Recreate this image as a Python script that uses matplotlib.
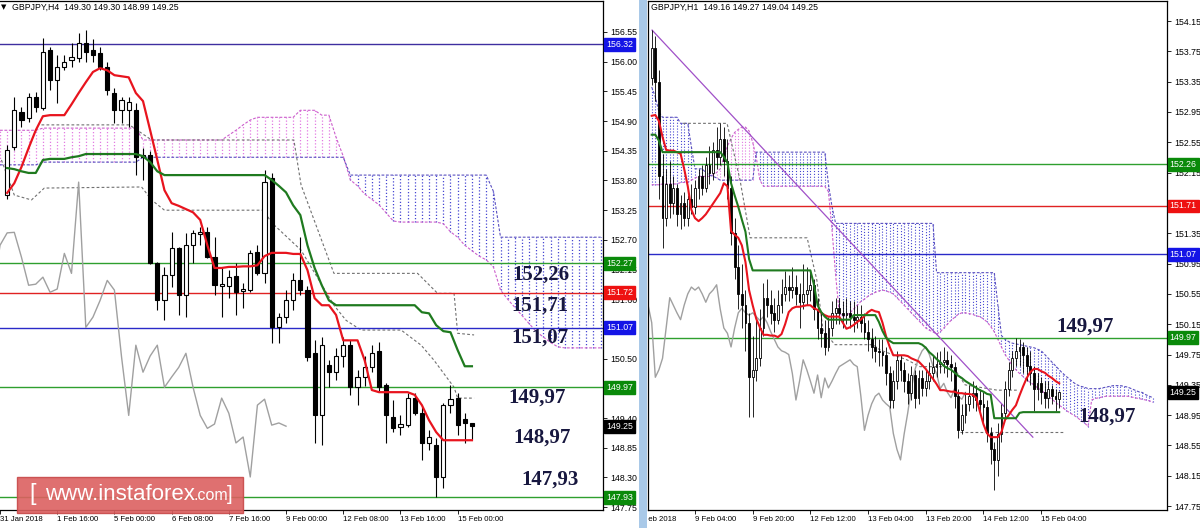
import numpy as np
import matplotlib.pyplot as plt
from matplotlib.transforms import Bbox, blended_transform_factory
from matplotlib.patches import Rectangle, FancyBboxPatch

plt.rcParams['font.family'] = ['Liberation Sans', 'DejaVu Sans']

# ---------------- left chart, GBPJPY H4 (bars 1..66) ----------------
L_open = [153.53, 154.42, 155.07, 154.96, 155.34, 155.14, 156.21, 155.66, 155.90, 156.03,
          156.07, 156.34, 156.21, 156.16, 155.90, 155.42, 155.10, 155.10, 155.10, 154.24,
          154.27, 152.27, 151.58, 152.05, 152.55, 151.68, 152.60, 152.81, 152.84, 152.38,
          151.85, 151.85, 152.03, 151.75, 151.77, 152.47, 152.08, 153.85, 151.08, 151.27,
          151.58, 151.95, 151.77, 150.60, 149.45, 150.38, 150.25, 150.55, 150.75, 149.97,
          150.16, 150.34, 150.65, 150.01, 149.42, 149.23, 149.27, 149.77, 149.49, 148.94,
          148.90, 148.31, 149.64, 149.77, 149.38, 149.30]
L_high = [154.45, 155.34, 155.16, 155.42, 155.44, 156.44, 156.27, 156.12, 156.12, 156.34,
          156.53, 156.58, 156.42, 156.27, 155.99, 155.51, 155.34, 155.34, 155.24, 154.40,
          154.35, 152.29, 152.20, 152.84, 152.57, 152.83, 152.88, 152.94, 152.94, 152.75,
          152.20, 152.14, 152.27, 151.90, 152.51, 152.60, 153.99, 153.94, 151.34, 151.77,
          152.08, 152.75, 151.85, 150.85, 150.90, 150.47, 150.70, 150.90, 150.85, 150.29,
          150.55, 150.75, 150.80, 150.05, 149.73, 149.45, 149.86, 149.86, 149.60, 149.18,
          149.03, 149.68, 150.01, 149.86, 149.49, 149.30]
L_low = [153.45, 154.37, 154.79, 154.88, 155.07, 155.10, 155.47, 155.23, 155.84, 155.90,
         155.99, 155.99, 155.99, 155.84, 155.38, 154.86, 154.86, 154.79, 153.90, 153.81,
         152.25, 151.40, 151.21, 151.83, 151.31, 151.27, 152.27, 152.60, 152.36, 151.68,
         151.27, 151.62, 151.31, 151.44, 151.73, 152.05, 151.90, 150.79, 150.79, 151.16,
         151.40, 151.68, 150.45, 148.94, 148.90, 149.97, 150.10, 150.35, 149.83, 149.64,
         150.00, 150.25, 149.90, 148.94, 149.14, 149.08, 149.23, 149.45, 148.62, 148.81,
         147.94, 148.10, 149.49, 149.08, 148.94, 148.99]
L_close = [154.36, 155.10, 154.92, 155.34, 155.16, 156.18, 155.66, 155.90, 155.99, 156.08,
           156.34, 156.18, 156.12, 155.90, 155.47, 155.10, 155.29, 155.25, 154.24, 154.27,
           152.27, 151.58, 152.05, 152.55, 151.68, 152.60, 152.83, 152.84, 152.38, 151.86,
           151.88, 152.01, 151.73, 151.79, 152.45, 152.08, 153.77, 151.08, 151.27, 151.58,
           151.95, 151.77, 150.53, 149.45, 150.75, 150.25, 150.55, 150.75, 149.97, 150.16,
           150.34, 150.60, 149.97, 149.45, 149.21, 149.29, 149.77, 149.49, 148.94, 149.05,
           148.31, 149.64, 149.75, 149.27, 149.31, 149.25]
L_tenkan = [153.57, 153.75, 154.05, 154.40, 154.73, 154.99, 155.01, 155.01, 155.01, 155.21,
            155.42, 155.62, 155.81, 155.88, 155.84, 155.75, 155.73, 155.71, 155.42, 155.27,
            154.73, 154.18, 153.62, 153.38, 153.33, 153.27, 153.21, 153.07, 152.60, 152.18,
            152.18, 152.20, 152.20, 152.21, 152.21, 152.23, 152.40, 152.46, 152.46, 152.46,
            152.44, 152.44, 152.14, 151.62, 151.49, 151.49, 151.31, 150.84, 150.84, 150.84,
            150.47, 149.92, 149.88, 149.88, 149.88, 149.88, 149.88, 149.83, 149.64, 149.36,
            149.14, 148.99, 148.99, 148.99, 148.99, 148.99]
L_kijun = [154.03, 154.01, 153.97, 153.94, 153.94, 154.18, 154.20, 154.20, 154.20, 154.23,
           154.25, 154.29, 154.29, 154.29, 154.29, 154.29, 154.29, 154.29, 154.29, 154.25,
           154.14, 153.97, 153.90, 153.90, 153.90, 153.90, 153.90, 153.90, 153.90, 153.90,
           153.90, 153.90, 153.90, 153.90, 153.90, 153.90, 153.90, 153.81, 153.70, 153.58,
           153.34, 153.16, 152.60, 152.18, 151.86, 151.58, 151.49, 151.49, 151.49, 151.49,
           151.49, 151.49, 151.49, 151.49, 151.49, 151.49, 151.49, 151.49, 151.36, 151.34,
           151.12, 151.01, 150.99, 150.66, 150.36, 150.36]
# cloud, bars 0..84 (shifted forward)
L_spanA = ([154.73] * 6 + [154.77] * 14 + [154.55] * 12 + [154.64, 154.73, 154.83, 154.92]
           + [154.97] * 6 + [155.10] * 3 + [155.01] * 2 + [154.60, 154.25]
           + [153.81, 153.70, 153.55, 153.45, 153.35, 153.20, 153.05] + [153.03] * 6
           + [153.00, 152.85, 152.75, 152.60, 152.50, 152.40, 152.33, 152.20, 151.77, 151.60,
              151.45, 151.30, 151.15, 151.00, 150.90, 150.80, 150.72] + [150.70] * 6)
L_spanB = [154.09] * 6 + [154.14] * 14 + [154.23] * 29 + [153.90] * 20 + [153.60] + [152.75] * 15
L_g1_x = [5.8, 18.1, 21.2, 41.1, 42.1, 46.7, 58.4, 61.2, 63.5, 64.0, 66.3]
L_g1_y = [154.83, 154.83, 154.55, 154.55, 153.72, 152.08, 152.08, 151.71, 151.71, 150.97, 150.94]
L_g2_x = [0.2, 2.0, 4.4, 6.2, 19.8, 21.2, 23.0, 36.9, 37.9, 42.1, 46.7, 48.4, 50.5, 56.1,
          58.9, 60.7, 63.5, 64.0, 66.3]
L_g2_y = [154.18, 153.53, 153.44, 153.66, 153.68, 153.44, 153.25, 153.25, 153.03, 152.51,
          151.49, 151.21, 151.03, 151.03, 150.75, 150.47, 149.97, 149.77, 149.77]
L_levels = [(156.32, '#3f2fa0', '#1414e6'), (152.27, '#2f9f2f', '#0a8a0a'),
            (151.72, '#e02222', '#ee1111'), (151.07, '#2a2ac8', '#1414e6'),
            (149.97, '#2f9f2f', '#0a8a0a'), (147.93, '#2f9f2f', '#0a8a0a')]
L_yticks = [147.75, 148.30, 148.85, 149.40, 149.95, 150.50, 151.05, 151.60, 152.15, 152.70,
            153.25, 153.80, 154.35, 154.90, 155.45, 156.00, 156.55]
L_hidden = [149.95, 151.05]          # covered by the level boxes
L_xticks = [0, 8, 16, 24, 32, 40, 48, 56, 64]
L_xlabels = ['31 Jan 2018', '1 Feb 16:00', '5 Feb 00:00', '6 Feb 08:00', '7 Feb 16:00',
             '9 Feb 00:00', '12 Feb 08:00', '13 Feb 16:00', '15 Feb 00:00']
L_notes = [('152,26', 541, 275), ('151,71', 540, 306), ('151,07', 540, 338),
           ('149,97', 537, 398), ('148,97', 542, 438), ('147,93', 550, 480)]

# ---------------- right chart, GBPJPY H1 (bars 0..113) ----------------
R_open0 = 153.40
R_close = [153.80, 153.35, 152.10, 151.55, 152.00, 151.75, 151.95, 151.60, 151.75, 151.55,
           151.80, 151.70, 151.95, 152.10, 151.95, 152.25, 152.15, 152.45, 152.35, 152.60,
           152.30, 151.95, 151.35, 150.90, 150.55, 150.40, 150.17, 149.45, 149.55, 149.70,
           150.10, 150.50, 150.40, 150.30, 150.21, 150.40, 150.55, 150.64, 150.60, 150.64,
           150.55, 150.44, 150.55, 150.60, 150.67, 150.35, 150.10, 150.03, 149.85, 150.10,
           150.30, 150.36, 150.30, 150.27, 150.30, 150.25, 150.20, 150.25, 150.17, 150.05,
           149.95, 149.85, 149.80, 149.78, 149.75, 149.50, 149.15, 149.40, 149.68, 149.55,
           149.40, 149.24, 149.48, 149.18, 149.44, 149.31, 149.40, 149.50, 149.59, 149.62,
           149.65, 149.68, 149.62, 149.59, 149.20, 148.75, 148.95, 149.10, 149.20, 149.24,
           149.15, 149.10, 149.06, 148.71, 148.50, 148.36, 148.70, 148.98, 149.30, 149.55,
           149.70, 149.80, 149.85, 149.75, 149.60, 149.50, 149.30, 149.37, 149.25, 149.18,
           149.30, 149.20, 149.16, 149.25]
R_high = [154.03, 153.95, 153.50, 152.40, 152.20, 152.30, 152.10, 152.00, 151.85, 151.90,
          151.85, 152.00, 152.05, 152.20, 152.25, 152.35, 152.50, 152.55, 152.75, 152.80,
          152.75, 152.60, 152.10, 151.55, 151.20, 150.95, 150.60, 150.30, 150.00, 150.20,
          150.35, 150.70, 150.75, 150.60, 150.50, 150.60, 150.75, 150.85, 150.80, 150.90,
          150.80, 150.70, 150.95, 150.90, 150.85, 150.75, 150.50, 150.30, 150.20, 150.25,
          150.45, 150.50, 150.50, 150.45, 150.50, 150.45, 150.45, 150.40, 150.40, 150.30,
          150.20, 150.10, 150.00, 149.95, 149.95, 149.85, 149.60, 149.55, 149.80, 149.75,
          149.65, 149.50, 149.60, 149.55, 149.55, 149.55, 149.55, 149.65, 149.75, 149.78,
          149.80, 149.85, 149.80, 149.75, 149.65, 149.30, 149.10, 149.25, 149.35, 149.40,
          149.35, 149.30, 149.25, 149.15, 148.80, 148.60, 148.85, 149.10, 149.40, 149.65,
          149.80, 149.97, 149.95, 149.92, 149.85, 149.80, 149.60, 149.50, 149.45, 149.40,
          149.40, 149.35, 149.30, 149.27]
R_low = [153.30, 153.10, 151.80, 151.15, 151.45, 151.55, 151.60, 151.45, 151.40, 151.45,
         151.45, 151.60, 151.60, 151.80, 151.85, 151.90, 152.00, 152.05, 152.20, 152.25,
         152.10, 151.80, 151.20, 150.75, 150.35, 150.10, 149.80, 148.92, 148.92, 149.40,
         149.60, 150.00, 150.25, 150.15, 150.05, 150.15, 150.30, 150.45, 150.45, 150.50,
         150.40, 150.10, 150.35, 150.40, 150.45, 150.20, 149.95, 149.85, 149.75, 149.80,
         150.00, 150.15, 150.15, 150.10, 150.15, 150.10, 150.05, 150.10, 150.05, 149.95,
         149.80, 149.70, 149.65, 149.60, 149.60, 149.35, 149.05, 149.05, 149.30, 149.40,
         149.25, 149.10, 149.15, 149.05, 149.10, 149.20, 149.20, 149.30, 149.40, 149.45,
         149.50, 149.50, 149.45, 149.40, 149.05, 148.65, 148.70, 148.85, 149.00, 149.05,
         149.00, 148.95, 148.85, 148.60, 148.30, 147.96, 148.15, 148.60, 148.90, 149.20,
         149.45, 149.60, 149.60, 149.50, 149.40, 149.35, 149.00, 149.15, 149.10, 149.05,
         149.05, 149.10, 149.00, 149.04]
R_tenkan = [152.90, 152.91, 152.83, 152.62, 152.45, 152.44, 152.44, 152.42, 152.40, 152.20,
            151.97, 151.66, 151.55, 151.51, 151.55, 151.60, 151.67, 151.74, 151.81, 151.88,
            152.01, 151.97, 151.38, 151.33, 151.29, 151.19, 150.97, 150.60, 150.40, 150.22,
            150.11, 150.01, 150.01, 150.00, 150.00, 149.98, 150.02, 150.15, 150.31, 150.36,
            150.38, 150.38, 150.39, 150.40, 150.40, 150.36, 150.34, 150.30, 150.27, 150.25,
            150.25, 150.25, 150.25, 150.17, 150.09, 150.11, 150.14, 150.18, 150.21, 150.26,
            150.31, 150.34, 150.32, 150.31, 150.17, 149.99, 149.85, 149.74, 149.74, 149.74,
            149.74, 149.73, 149.70, 149.68, 149.66, 149.61, 149.56, 149.49, 149.43, 149.36,
            149.28, 149.28, 149.27, 149.26, 149.26, 149.24, 149.24, 149.23, 149.23, 149.22,
            149.18, 149.00, 148.83, 148.71, 148.66, 148.66, 148.66, 148.73, 148.89, 148.95,
            149.02, 149.08, 149.21, 149.33, 149.44, 149.52, 149.56, 149.56, 149.53, 149.51,
            149.47, 149.44, 149.40, 149.37]
R_kijun = ([152.65, 152.65, 152.57] + [152.42] * 17
           + [152.36, 152.28, 152.01, 151.85, 151.70, 151.53, 151.37, 151.01] + [150.86] * 17
           + [150.67, 150.40, 150.31, 150.25] + [150.21] * 7 + [150.27] * 7
           + [150.18, 150.06, 149.97, 149.93] + [149.90] * 8
           + [149.88, 149.84, 149.78, 149.74, 149.69, 149.65, 149.60, 149.57, 149.55, 149.51,
              149.47, 149.44, 149.40, 149.37, 149.34, 149.31, 149.28, 149.26, 149.23, 149.22]
           + [148.91] * 7 + [148.98] + [148.99] * 11)
# cloud, bars 0..139
R_spanA = ([151.99] * 3 + [152.00] * 5 + [152.02] * 3 + [152.05, 152.08] + [152.10] * 4
           + [152.12, 152.15, 152.20, 152.35, 152.50, 152.60, 152.68, 152.72, 152.75, 152.75,
              152.70, 152.55, 152.35, 152.05] + [151.97] * 18 + [151.90, 151.40, 150.80]
           + [150.30, 150.25, 150.27, 150.30, 150.35, 150.40, 150.45, 150.48, 150.52, 150.55,
              150.57, 150.59, 150.60, 150.59, 150.57, 150.55, 150.50, 150.45, 150.40, 150.35,
              150.30, 150.25, 150.20, 150.15, 150.10, 150.07, 150.05]
           + [150.02, 150.05, 150.10, 150.15, 150.20, 150.24, 150.28, 150.30, 150.30, 150.29,
              150.28, 150.26, 150.25, 150.22, 150.18, 150.12, 150.05]
           + [149.95, 149.85, 149.75, 149.68, 149.60, 149.55, 149.50, 149.46, 149.42, 149.38,
              149.35, 149.31, 149.28, 149.24, 149.20, 149.16, 149.12, 149.08, 149.05, 149.01,
              148.98, 148.95, 148.92, 148.88, 148.85, 148.80]
           + [149.15, 149.17, 149.18, 149.19, 149.20, 149.20, 149.20, 149.20, 149.20, 149.20,
              149.20, 149.19, 149.18, 149.17, 149.16, 149.15, 149.14, 149.12])
R_spanB = ([153.28, 153.15, 152.95] + [152.88] * 5 + [152.80] * 3 + [152.49] + [152.20] * 3
           + [152.15, 152.12, 152.10, 152.08] + [152.05] * 10 + [152.42] * 20
           + [152.00, 151.70] + [151.48] * 28 + [150.83] * 17
           + [150.40, 150.00, 149.95, 149.92, 149.90, 149.89, 149.88, 149.87, 149.86, 149.85,
              149.84, 149.82, 149.80, 149.75, 149.70, 149.65, 149.60, 149.55, 149.50, 149.46,
              149.42, 149.38, 149.35, 149.33, 149.32, 149.30, 149.30, 149.30, 149.30, 149.31,
              149.32, 149.33, 149.34, 149.34, 149.34, 149.33, 149.32, 149.30, 149.28, 149.26,
              149.25, 149.22, 149.20, 149.18])
R_g1_x = [8.7, 20.9, 24.5, 27.3, 43.1, 45.8, 47.5, 50.8, 61.4, 63.3, 70.8, 74.4, 83.6, 86.9,
          95.8, 101.3]
R_g1_y = [152.80, 152.80, 152.05, 151.29, 151.29, 150.73, 150.07, 149.88, 149.88, 149.81,
          149.68, 149.59, 149.59, 149.35, 149.28, 149.28]
R_g2_x = [85.5, 114.0]
R_g2_y = [148.73, 148.73]
R_trend_x = [0.1, 105.7]
R_trend_y = [154.03, 148.66]
R_levels = [(152.26, '#2f9f2f', '#0a8a0a'), (151.71, '#e02222', '#ee1111'),
            (151.07, '#2a2ac8', '#1414e6'), (149.97, '#2f9f2f', '#0a8a0a')]
R_yticks = [147.75, 148.15, 148.55, 148.95, 149.35, 149.75, 150.15, 150.55, 150.95, 151.35,
            151.75, 152.15, 152.55, 152.95, 153.35, 153.75, 154.15]
R_hidden = [151.75]
R_xticks = [12, 28, 44, 60, 76, 92, 108]
R_xlabels = ['9 Feb 04:00', '9 Feb 20:00', '12 Feb 12:00', '13 Feb 04:00', '13 Feb 20:00',
             '14 Feb 12:00', '15 Feb 04:00']
R_notes = [('149,97', 1085, 327), ('148,97', 1107, 417)]

W, H = 1200, 528
fig = plt.figure(figsize=(W / 100, H / 100), dpi=100)
fig.patch.set_facecolor('white')


def px_axes(x0, y0, x1, y1):
    return fig.add_axes([x0 / W, 1 - y1 / H, (x1 - x0) / W, (y1 - y0) / H])


def candles(ax, x, o, h, l, c, w, lw):
    x, o, h, l, c = map(np.asarray, (x, o, h, l, c))
    ax.vlines(x, l, h, color='black', lw=lw, zorder=3)
    up = c >= o
    bot = np.minimum(o, c)
    hgt = np.maximum(np.abs(c - o), 0.004)
    ax.bar(x[up], hgt[up], w, bot[up], color='white', edgecolor='black', lw=lw, zorder=4)
    ax.bar(x[~up], hgt[~up], w, bot[~up], color='black', edgecolor='black', lw=lw, zorder=4)


def cloud(ax, x, a, b, lw):
    x, a, b = map(np.asarray, (x, a, b))
    pink = a >= b
    ax.vlines(x[pink], b[pink], a[pink], colors='#e27be2', linestyles=(0, (1, 1.6)), lw=lw, zorder=1)
    ax.vlines(x[~pink], a[~pink], b[~pink], colors='#4646d2', linestyles=(0, (1, 1.6)), lw=lw, zorder=1)
    ax.plot(x, a, color='#cc5fcc', ls=(0, (2.5, 1.5)), lw=0.8, zorder=1)
    ax.plot(x, b, color='#5a50c0', ls=(0, (2.5, 1.5)), lw=0.8, zorder=1)


def price_box(ax, y, txt, fc):
    tr = blended_transform_factory(ax.transAxes, ax.transData)
    ax.text(1.005, y, txt, transform=tr, ha='left', va='center', fontsize=6.3, color='white',
            bbox=dict(boxstyle='square,pad=0.22', fc=fc, ec=fc), clip_on=False, zorder=20)


def style_axes(ax, yticks, hidden, xticks, xlabels):
    ax.set_facecolor('white')
    ax.yaxis.tick_right()
    ax.set_yticks(yticks)
    ax.set_yticklabels(['' if v in hidden else '%.2f' % v for v in yticks])
    ax.set_xticks(xticks)
    ax.set_xticklabels(xlabels, ha='left')
    ax.tick_params(axis='y', direction='out', length=3, width=0.6, labelsize=6.3, pad=2)
    ax.tick_params(axis='x', direction='out', length=3, width=0.6, labelsize=5.6, pad=1)
    for s in ax.spines.values():
        s.set_linewidth(0.9)
        s.set_color('black')


# ---------------- left panel ----------------
ax1 = px_axes(0, 1, 603, 510)
ax1.set_xlim(0.11, 84.33)
ax1.set_ylim(147.698, 157.124)
style_axes(ax1, L_yticks, L_hidden, L_xticks, L_xlabels)
ax1.spines['left'].set_visible(False)

Li = np.arange(1, len(L_close) + 1)
cloud(ax1, np.arange(len(L_spanA)), L_spanA, L_spanB, 0.9)
ax1.plot(L_g1_x, L_g1_y, color='#707070', ls=(0, (2.5, 2)), lw=0.8, zorder=2)
ax1.plot(L_g2_x, L_g2_y, color='#707070', ls=(0, (2.5, 2)), lw=0.8, zorder=2)
for lv, col, _ in L_levels:
    ax1.axhline(lv, color=col, lw=1.0, zorder=2)
ax1.plot(Li - 26, L_close, color='#a0a0a0', lw=1.0, zorder=2)
candles(ax1, Li, L_open, L_high, L_low, L_close, 0.58, 0.8)
ax1.plot(Li, L_tenkan, color='#e8141e', lw=1.6, zorder=5)
ax1.plot(Li, L_kijun, color='#1f7a1f', lw=1.6, zorder=5)
for lv, _, fc in L_levels:
    price_box(ax1, lv, '%.2f' % lv, fc)
price_box(ax1, L_close[-1], '%.2f' % L_close[-1], 'black')

# ---------------- right panel ----------------
ax2 = px_axes(648, 1, 1167, 510)
ax2.set_xlim(-1.03, 142.9)
ax2.set_ylim(147.699, 154.414)
style_axes(ax2, R_yticks, R_hidden, R_xticks, R_xlabels)

Rj = np.arange(len(R_close))
R_open = [R_open0] + R_close[:-1]
cloud(ax2, np.arange(len(R_spanA)), R_spanA, R_spanB, 0.8)
ax2.plot(R_g1_x, R_g1_y, color='#707070', ls=(0, (2.5, 2)), lw=0.8, zorder=2)
ax2.plot(R_g2_x, R_g2_y, color='#707070', ls=(0, (2.5, 2)), lw=0.8, zorder=2)
for lv, col, _ in R_levels:
    ax2.axhline(lv, color=col, lw=1.0, zorder=2)
ax2.plot(Rj[25:] - 26, R_close[25:], color='#a0a0a0', lw=1.0, zorder=2)
ax2.plot(R_trend_x, R_trend_y, color='#a050c8', lw=0.9, zorder=2)
candles(ax2, Rj, R_open, R_high, R_low, R_close, 0.5, 0.6)
ax2.plot(Rj, R_tenkan, color='#e8141e', lw=1.5, zorder=5)
ax2.plot(Rj, R_kijun, color='#1f7a1f', lw=1.5, zorder=5)
for lv, _, fc in R_levels:
    price_box(ax2, lv, '%.2f' % lv, fc)
price_box(ax2, R_close[-1], '%.2f' % R_close[-1], 'black')

# first (cut) date label of the right panel
t = ax2.text(-4.1, -0.012, '8 Feb 2018', transform=blended_transform_factory(ax2.transData, ax2.transAxes),
             ha='left', va='top', fontsize=5.6)
t.set_clip_box(Bbox.from_extents(648, 0, 1200, 528))
t.set_clip_on(True)

# separator between the two windows
fig.patches.append(Rectangle((639 / W, 0), 8 / W, 1, transform=fig.transFigure,
                             facecolor='#a9c9e8', edgecolor='none', zorder=0))


def ftext(x, y, s, **kw):
    fig.text(x / W, 1 - y / H, s, **kw)


ftext(1, 7, '\u25bc', fontsize=5, va='center', family=['DejaVu Sans'])
ftext(12, 7, 'GBPJPY,H4  149.30 149.30 148.99 149.25', fontsize=6.3, va='center')
ftext(651, 7, 'GBPJPY,H1  149.16 149.27 149.04 149.25', fontsize=6.3, va='center')

for s, x, y in L_notes + R_notes:
    ftext(x, y, s, fontsize=15, fontweight='bold', family=['Liberation Serif'], color='#17173f',
          ha='center', va='center', zorder=30)

# watermark
fig.patches.append(FancyBboxPatch((17 / W, 1 - 513 / H), 226 / W, 36 / H,
                                  boxstyle='square,pad=0', transform=fig.transFigure,
                                  facecolor='#dc6060', edgecolor='#c84848', lw=1, alpha=0.9, zorder=25))
ftext(29, 500, '[', fontsize=17, color='white', va='baseline', zorder=26)
ftext(45, 500, 'www.instaforex', fontsize=16, color='white', va='baseline', zorder=26)
ftext(194, 500, '.com', fontsize=11.5, color='white', va='baseline', zorder=26)
ftext(227, 500, ']', fontsize=15, color='white', va='baseline', zorder=26)

fig.savefig('out.png', dpi=100)
